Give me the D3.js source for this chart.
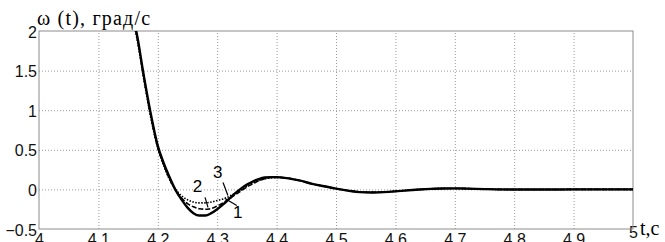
<!doctype html>
<html>
<head>
<meta charset="utf-8">
<style>
  body { margin: 0; background: #fff; }
  #chart .grid line { stroke: #9a9a9a; stroke-dasharray: 1,2; }
  #chart .grid path { display: none; }
  #chart .tick text { font-family: "Liberation Sans", Arial, sans-serif; font-size: 16px; fill: #111; }
</style>
</head>
<body>
<svg id="chart"></svg>
<script src="https://cdn.jsdelivr.net/npm/d3@7"></script>
<script>
// time points, s
var time = [4.16, 4.165, 4.175, 4.187, 4.20, 4.21, 4.22, 4.23, 4.24, 4.25, 4.26, 4.27, 4.28, 4.29, 4.30,
            4.31, 4.32, 4.33, 4.34, 4.35, 4.36, 4.37, 4.38, 4.39, 4.40, 4.42, 4.44, 4.46, 4.48, 4.50,
            4.52, 4.54, 4.56, 4.58, 4.60, 4.62, 4.64, 4.66, 4.68, 4.70, 4.72, 4.75, 4.80, 4.85, 4.90, 5.00];
// curve 1 (solid)
var omega1 = [2.12, 1.95, 1.50, 1.00, 0.55, 0.33, 0.15, -0.01, -0.13, -0.23, -0.30, -0.33, -0.33, -0.30, -0.25,
              -0.19, -0.12, -0.05, 0.01, 0.06, 0.10, 0.13, 0.15, 0.155, 0.155, 0.14, 0.11, 0.07, 0.04, 0.01,
              -0.015, -0.035, -0.04, -0.035, -0.025, -0.012, -0.002, 0.006, 0.012, 0.013, 0.01, 0.004, -0.002, -0.002, 0, 0];
// curve 2 (dashed)
var omega2 = [2.10, 1.93, 1.48, 0.98, 0.53, 0.31, 0.13, -0.01, -0.11, -0.18, -0.22, -0.245, -0.25, -0.24, -0.21,
              -0.17, -0.12, -0.07, -0.02, 0.03, 0.07, 0.11, 0.135, 0.15, 0.15, 0.14, 0.11, 0.07, 0.04, 0.01,
              -0.015, -0.033, -0.038, -0.034, -0.024, -0.012, -0.002, 0.006, 0.011, 0.012, 0.01, 0.004, -0.002, -0.002, 0, 0];
// curve 3 (dotted)
var omega3 = [2.08, 1.90, 1.45, 0.95, 0.52, 0.30, 0.12, 0.00, -0.08, -0.13, -0.16, -0.17, -0.17, -0.16, -0.14,
              -0.12, -0.09, -0.05, -0.01, 0.04, 0.08, 0.11, 0.135, 0.145, 0.15, 0.14, 0.11, 0.07, 0.04, 0.01,
              -0.015, -0.03, -0.036, -0.032, -0.022, -0.011, -0.002, 0.006, 0.011, 0.012, 0.01, 0.004, -0.002, -0.002, 0, 0];
var xTicks = [4, 4.1, 4.2, 4.3, 4.4, 4.5, 4.6, 4.7, 4.8, 4.9, 5];
var yTicks = [-0.5, 0, 0.5, 1, 1.5, 2];
// curve labels: number, text position, leader line (data coords)
var labels = [
  {name: "2", t: 4.259, v: -0.038, t1: 4.2795, v1: -0.1, t2: 4.2845, v2: -0.227},
  {name: "3", t: 4.293, v: 0.139, t1: 4.3098, v1: 0.088, t2: 4.318, v2: -0.076},
  {name: "1", t: 4.3266, v: -0.366, t1: 4.313, v1: -0.114, t2: 4.333, v2: -0.202}
];

var W = 665, H = 242,
    padL = 39, padR = 633, padT = 31, padB = 229;

var svg = d3.select("#chart").attr("width", W).attr("height", H);

var x = d3.scaleLinear().domain([4, 5]).range([padL, padR]);
var y = d3.scaleLinear().domain([-0.5, 2]).range([padB, padT]);

// grid
svg.append("g").attr("class", "grid")
  .attr("transform", "translate(0," + padB + ")")
  .call(d3.axisBottom(x).tickValues(xTicks.slice(1, -1)).tickSize(-(padB - padT)).tickFormat(""));
svg.append("g").attr("class", "grid")
  .attr("transform", "translate(" + padL + ",0)")
  .call(d3.axisLeft(y).tickValues(yTicks.slice(1, -1)).tickSize(-(padR - padL)).tickFormat(""));

// tick labels
var xAx = svg.append("g")
  .attr("transform", "translate(0," + padB + ")")
  .call(d3.axisBottom(x).tickValues(xTicks).tickSize(0).tickPadding(4).tickFormat(d3.format("")));
xAx.select(".domain").remove();
xAx.selectAll(".tick text").attr("dy", "0.72em");
xAx.selectAll(".tick").filter(function(d) { return d === 5; }).select("text").attr("dy", "0.34em");

var yAx = svg.append("g")
  .attr("transform", "translate(" + padL + ",0)")
  .call(d3.axisLeft(y).tickValues(yTicks).tickSize(0).tickPadding(2).tickFormat(d3.format("")));
yAx.select(".domain").remove();
yAx.selectAll(".tick text").attr("dy", "0.38em");

// box
svg.append("rect")
  .attr("x", padL).attr("y", padT)
  .attr("width", padR - padL).attr("height", padB - padT)
  .attr("fill", "none").attr("stroke", "#8c8c8c").attr("stroke-width", 1);

// curves
svg.append("clipPath").attr("id", "clip").append("rect")
  .attr("x", padL).attr("y", padT).attr("width", padR - padL).attr("height", padB - padT);

var line = d3.line().curve(d3.curveMonotoneX)
  .x(function(d) { return x(d[0]); })
  .y(function(d) { return y(d[1]); });

var series = [
  {values: omega3, width: 1.6, dash: "1.5,1.5"},
  {values: omega2, width: 1.6, dash: "5,2"},
  {values: omega1, width: 2.4, dash: null}
];
series.forEach(function(s) {
  svg.append("path")
    .attr("clip-path", "url(#clip)")
    .attr("d", line(d3.zip(time, s.values)))
    .attr("fill", "none")
    .attr("stroke", "#000")
    .attr("stroke-width", s.width)
    .attr("stroke-dasharray", s.dash);
});

// curve numbers and leaders
labels.forEach(function(l) {
  svg.append("line")
    .attr("x1", x(l.t1)).attr("y1", y(l.v1))
    .attr("x2", x(l.t2)).attr("y2", y(l.v2))
    .attr("stroke", "#000").attr("stroke-width", 1.2);
  svg.append("text")
    .attr("x", x(l.t)).attr("y", y(l.v))
    .attr("font-family", "Liberation Sans, Arial, sans-serif")
    .attr("font-size", 17)
    .text(l.name);
});

// axis titles
svg.append("text")
  .attr("x", 37).attr("y", 25)
  .attr("font-family", "Liberation Serif, Times New Roman, serif")
  .attr("font-size", 20)
  .attr("letter-spacing", 1.2)
  .text("ω (t), град/с");
svg.append("text")
  .attr("x", 640).attr("y", 235)
  .attr("font-family", "Liberation Serif, Times New Roman, serif")
  .attr("font-size", 20)
  .text("t,c");
</script>
</body>
</html>
